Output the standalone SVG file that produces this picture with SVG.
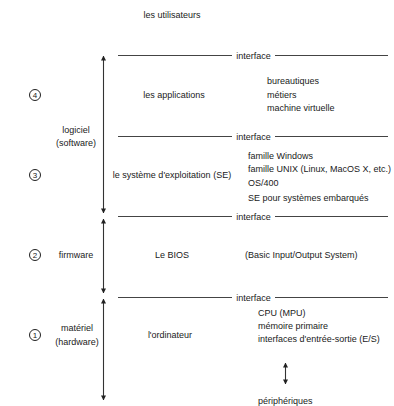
<svg xmlns="http://www.w3.org/2000/svg" width="394" height="406" viewBox="0 0 394 406">
<style>
text{font-family:"Liberation Sans",Arial,sans-serif;font-size:9px;fill:#1a1a1a}
.m{text-anchor:middle}
.ln{stroke:#444;stroke-width:1;fill:none}
.ar{stroke:#333;stroke-width:1.1;fill:none;marker-start:url(#h);marker-end:url(#h)}
.c{fill:none;stroke:#222;stroke-width:1}
.n{font-size:8px;text-anchor:middle}
</style>
<defs>
<marker id="h" viewBox="0 0 6 6" refX="5.5" refY="3" markerWidth="5" markerHeight="5" markerUnits="userSpaceOnUse" orient="auto-start-reverse">
<path d="M0,0L6,3L0,6z" fill="#222"/>
</marker>
</defs>
<rect width="394" height="406" fill="#fff"/>
<g id="users"><text class="m" x="172" y="18">les utilisateurs</text></g>
<g id="connectors">
<line class="ln" x1="118" y1="55.5" x2="232" y2="55.5"/><line class="ln" x1="275" y1="55.5" x2="388" y2="55.5"/>
<line class="ln" x1="118" y1="136.5" x2="232" y2="136.5"/><line class="ln" x1="275" y1="136.5" x2="388" y2="136.5"/>
<line class="ln" x1="118" y1="216.5" x2="232" y2="216.5"/><line class="ln" x1="275" y1="216.5" x2="388" y2="216.5"/>
<line class="ln" x1="118" y1="297.5" x2="232" y2="297.5"/><line class="ln" x1="275" y1="297.5" x2="388" y2="297.5"/>
<line class="ar" x1="103.5" y1="56" x2="103.5" y2="213"/>
<line class="ar" x1="103.5" y1="219" x2="103.5" y2="293"/>
<line class="ar" x1="103.5" y1="299" x2="103.5" y2="400"/>
<line class="ar" x1="285.5" y1="363" x2="285.5" y2="384"/>
</g>
<g id="interfaces">
<text class="m" x="253.5" y="58.5">interface</text>
<text class="m" x="253.5" y="139.5">interface</text>
<text class="m" x="253.5" y="219.5">interface</text>
<text class="m" x="253.5" y="300.5">interface</text>
</g>
<g id="level4">
<circle class="c" cx="35" cy="95" r="5.5"/><text class="n" x="35" y="97.8">4</text>
<text class="m" x="174" y="98">les applications</text>
<text x="267" y="84">bureautiques</text>
<text x="267" y="98">métiers</text>
<text x="267" y="111">machine virtuelle</text>
</g>
<g id="software"><text class="m" x="76" y="133">logiciel</text><text class="m" x="76" y="146">(software)</text></g>
<g id="level3">
<circle class="c" cx="35" cy="175" r="5.5"/><text class="n" x="35" y="177.8">3</text>
<text class="m" x="172" y="178">le système d'exploitation (SE)</text>
<text x="248" y="159">famille Windows</text>
<text x="248" y="172">famille UNIX (Linux, MacOS X, etc.)</text>
<text x="248" y="186">OS/400</text>
<text x="248" y="201">SE pour systèmes embarqués</text>
</g>
<g id="level2">
<circle class="c" cx="35" cy="255" r="5.5"/><text class="n" x="35" y="257.8">2</text>
<text class="m" x="76" y="258">firmware</text>
<text class="m" x="172" y="258">Le BIOS</text>
<text x="245" y="258">(Basic Input/Output System)</text>
</g>
<g id="level1">
<circle class="c" cx="35" cy="335" r="5.5"/><text class="n" x="35" y="337.8">1</text>
<text class="m" x="77" y="331">matériel</text>
<text class="m" x="77" y="345">(hardware)</text>
<text class="m" x="170" y="338">l'ordinateur</text>
<text x="258" y="316">CPU  (MPU)</text>
<text x="258" y="329">mémoire primaire</text>
<text x="258" y="342">interfaces d'entrée-sortie (E/S)</text>
</g>
<g id="peripheriques"><text x="258" y="404">périphériques</text></g>
</svg>
